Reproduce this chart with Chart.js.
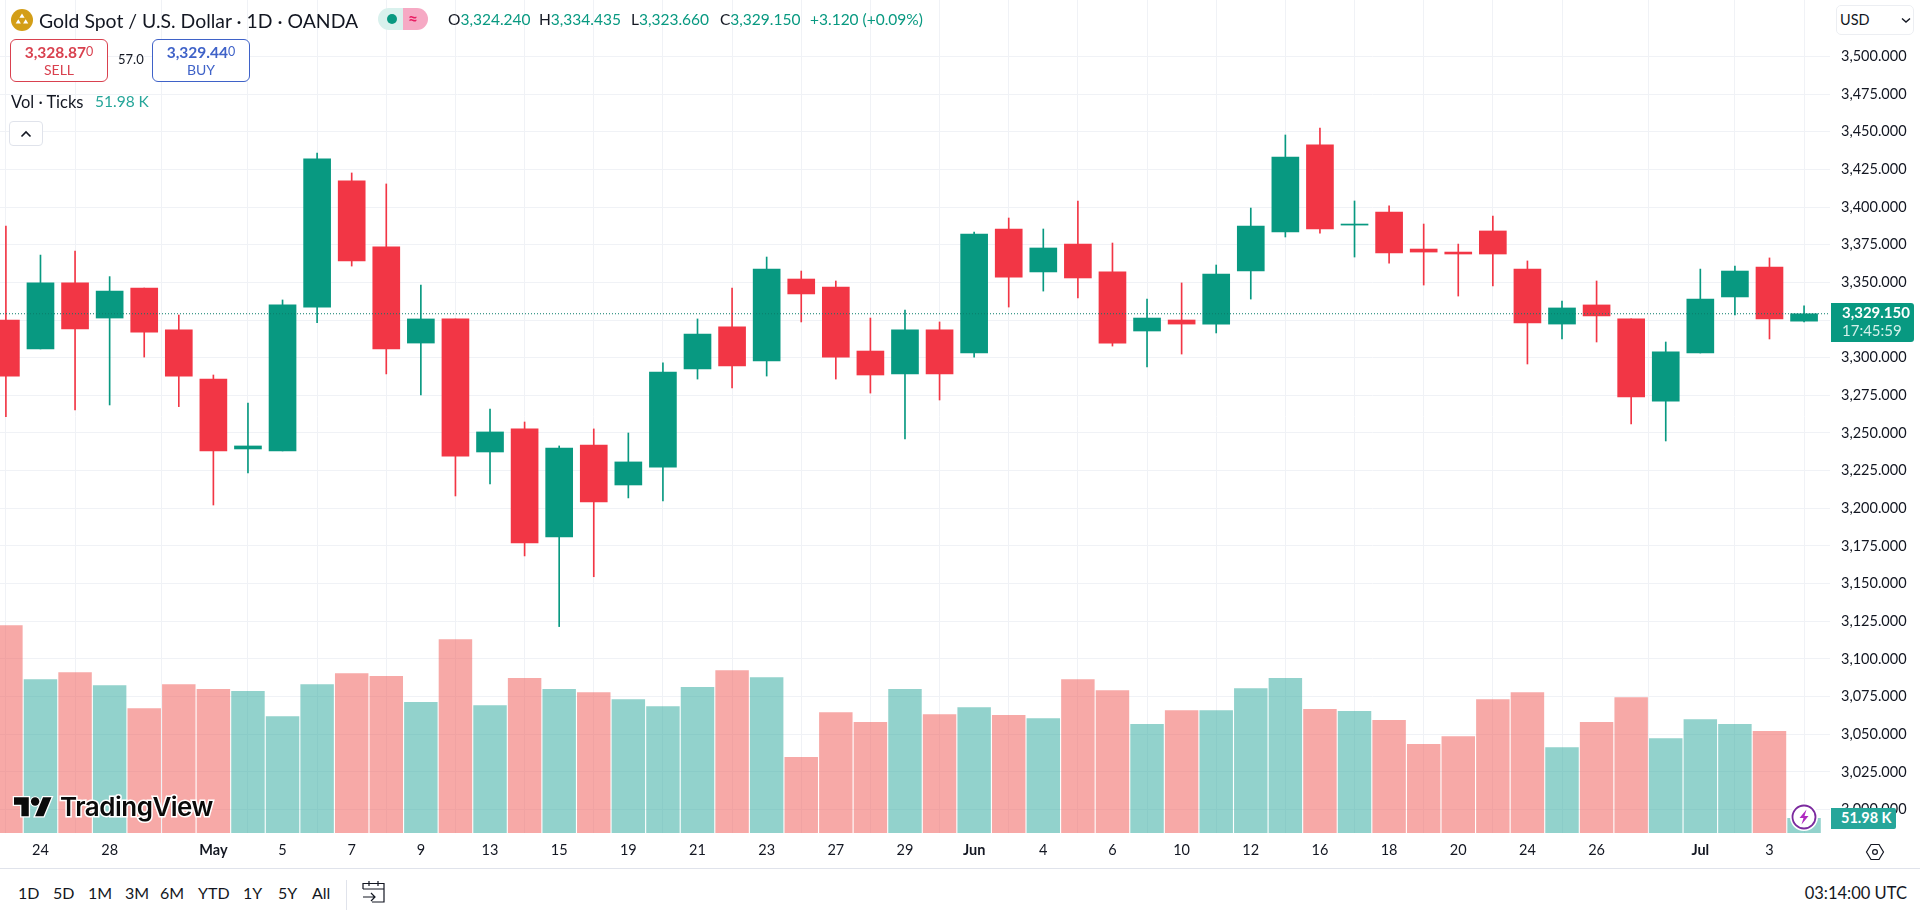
<!DOCTYPE html>
<html>
<head>
<meta charset="utf-8">
<script src="https://cdn.jsdelivr.net/npm/chart.js@4/dist/chart.umd.min.js"></script>
<style>
html,body{margin:0;padding:0;background:#fff;width:1920px;height:912px;overflow:hidden;font-family:"Lato",sans-serif;color:#131722}
#wrap{position:relative;width:1920px;height:912px;overflow:hidden}
canvas{position:absolute;left:0;top:0}
.t{position:absolute;white-space:nowrap;line-height:1}
.box{position:absolute;box-sizing:border-box;background:#fff}
svg{position:absolute;overflow:visible}
.g{color:#089981}
</style>
</head>
<body>
<div id="wrap">
<canvas id="c" width="1920" height="868"></canvas>

<svg style="left:11px;top:9px" width="22" height="22" viewBox="0 0 22 22"><circle cx="11" cy="11" r="11" fill="#d39e17"/><path d="M11 4.5l2.6 4.2H8.4zM7.3 10.2l2.6 4.2H4.7zM14.7 10.2l2.6 4.2h-5.2z" fill="#fff"/></svg>
<div class="t" style="left:39px;top:11px;font-size:19.4px">Gold Spot / U.S. Dollar · 1D · OANDA</div>

<div class="box" style="left:378px;top:8px;width:25px;height:22px;background:#d9f1ed;border-radius:11px 0 0 11px"></div>
<div class="box" style="left:403px;top:8px;width:25px;height:22px;background:#f6a9c4;border-radius:0 11px 11px 0"></div>
<svg style="left:387px;top:14px" width="10" height="10"><circle cx="5" cy="5" r="5" fill="#089981"/></svg>
<div class="t" style="left:408px;top:10px;font-size:17px;font-weight:700;color:#e91e63">≈</div>

<div class="t" style="left:448px;top:12px;font-size:15.5px">O<span class="g">3,324.240</span></div>
<div class="t" style="left:539px;top:12px;font-size:15.5px">H<span class="g">3,334.435</span></div>
<div class="t" style="left:631px;top:12px;font-size:15.5px">L<span class="g">3,323.660</span></div>
<div class="t" style="left:720px;top:12px;font-size:15.5px">C<span class="g">3,329.150</span></div>
<div class="t g" style="left:810px;top:12px;font-size:15.5px">+3.120 (+0.09%)</div>

<div class="box" style="left:10px;top:39px;width:98px;height:43px;border:1px solid #d9414f;border-radius:6px"></div>
<div class="t" style="left:10px;top:45px;width:98px;text-align:center;font-size:15.5px;font-weight:700;color:#d9414f">3,328.87<span style="font-size:12.5px;font-weight:400;vertical-align:2px">0</span></div>
<div class="t" style="left:10px;top:63px;width:98px;text-align:center;font-size:14px;color:#d9414f">SELL</div>
<div class="t" style="left:118px;top:53px;font-size:13px">57.0</div>
<div class="box" style="left:152px;top:39px;width:98px;height:43px;border:1px solid #3f62c8;border-radius:6px"></div>
<div class="t" style="left:152px;top:45px;width:98px;text-align:center;font-size:15.5px;font-weight:700;color:#3f62c8">3,329.44<span style="font-size:12.5px;font-weight:400;vertical-align:2px">0</span></div>
<div class="t" style="left:152px;top:63px;width:98px;text-align:center;font-size:14px;color:#3f62c8">BUY</div>

<div class="t" style="left:11px;top:94px;font-size:16.5px">Vol · Ticks</div>
<div class="t" style="left:95px;top:94px;font-size:15.5px;color:#26a69a">51.98 K</div>

<div class="box" style="left:9px;top:121px;width:34px;height:25px;border:1px solid #e0e3eb;border-radius:4px"></div>
<svg style="left:20px;top:130px" width="12" height="8"><path d="M1.5 6.5L6 2l4.5 4.5" fill="none" stroke="#131722" stroke-width="1.6"/></svg>

<div class="box" style="left:1836px;top:5px;width:78px;height:30px;border:1px solid #eceef2;border-radius:5px"></div>
<div class="t" style="left:1840px;top:13px;font-size:14.5px">USD</div>
<svg style="left:1901px;top:17px" width="10" height="7"><path d="M1 1.5L5 5l4-3.5" fill="none" stroke="#131722" stroke-width="1.4"/></svg>

<div class="box" style="left:1831px;top:303px;width:83px;height:39px;background:#089981;border-radius:0 3px 3px 0"></div>
<div class="t" style="left:1842px;top:305px;font-size:15px;font-weight:700;color:#fff">3,329.150</div>
<div class="t" style="left:1842px;top:323px;font-size:15px;color:#d4f1ea">17:45:59</div>

<div class="box" style="left:1831px;top:808px;width:65px;height:21px;background:#26a69a;border-radius:0 2px 2px 0"></div>
<div class="t" style="left:1841px;top:811px;font-size:14.5px;font-weight:700;color:#fff">51.98 K</div>

<svg style="left:1790px;top:803px" width="28" height="28" viewBox="0 0 28 28"><circle cx="14" cy="14" r="12.5" fill="#fff" stroke="#fff" stroke-width="3"/><circle cx="14" cy="14" r="11.5" fill="#fff" stroke="#7b2a9e" stroke-width="1.8"/><path d="M16.5 6.5L9.5 15h4l-2 6.5 7-8.5h-4z" fill="#b02ac0"/></svg>

<svg style="left:1865px;top:842px" width="20" height="20" viewBox="0 0 20 20"><path d="M6 2.5h8l4.5 7.5-4.5 7.5H6L1.500 10z" fill="none" stroke="#131722" stroke-width="1.2"/><circle cx="10" cy="10" r="2.400" fill="none" stroke="#131722" stroke-width="1.2"/></svg>

<svg style="left:14px;top:797px" width="38" height="20" viewBox="0 0 36 18.500"><g transform="translate(0,-4)"><path d="M14 22H7V11H0V4h14zM28 22h-8l7.500-18h8z" fill="#0a0a0a" stroke="#fff" stroke-width="2.500" paint-order="stroke"/><circle cx="20" cy="8" r="4" fill="#0a0a0a" stroke="#fff" stroke-width="2" paint-order="stroke"/></g></svg>
<div class="t" style="left:60px;top:794px;font-family:Inter,sans-serif;font-size:26px;font-weight:600;letter-spacing:-0.5px;color:#0a0a0a;-webkit-text-stroke:3px #fff;paint-order:stroke fill">TradingView</div>

<div class="box" style="left:0;top:868px;width:1920px;height:44px;border-top:1px solid #e0e3eb"></div>
<div class="t" style="left:18px;top:885px;font-size:16px">1D</div>
<div class="t" style="left:53px;top:885px;font-size:16px">5D</div>
<div class="t" style="left:88px;top:885px;font-size:16px">1M</div>
<div class="t" style="left:125px;top:885px;font-size:16px">3M</div>
<div class="t" style="left:160px;top:885px;font-size:16px">6M</div>
<div class="t" style="left:198px;top:885px;font-size:16px">YTD</div>
<div class="t" style="left:243px;top:885px;font-size:16px">1Y</div>
<div class="t" style="left:278px;top:885px;font-size:16px">5Y</div>
<div class="t" style="left:312px;top:885px;font-size:16px">All</div>
<div class="box" style="left:346px;top:880px;width:1px;height:30px;background:#e0e3eb"></div>
<svg style="left:362px;top:880px" width="24" height="24" viewBox="0 0 24 24"><path d="M1 9V3.500h21V22H10M1 9h21M7 1v5M16 1v5M1 17h12M9 13l4 4-4 4" fill="none" stroke="#131722" stroke-width="1.200"/></svg>
<div class="t" style="right:13px;top:885px;font-size:16.5px">03:14:00 UTC</div>
</div>

<script>
const dates = ["Apr 23","Apr 24","Apr 25","Apr 28","Apr 29","Apr 30","May 1","May 2","May 5","May 6","May 7","May 8","May 9","May 12","May 13","May 14","May 15","May 16","May 19","May 20","May 21","May 22","May 23","May 26","May 27","May 28","May 29","May 30","Jun 2","Jun 3","Jun 4","Jun 5","Jun 6","Jun 9","Jun 10","Jun 11","Jun 12","Jun 13","Jun 16","Jun 17","Jun 18","Jun 19","Jun 20","Jun 23","Jun 24","Jun 25","Jun 26","Jun 27","Jun 30","Jul 1","Jul 2","Jul 3","Jul 4"];
const opens = [3325,3305.8,3349.6,3326.3,3346.2,3318.4,3285.8,3239.4,3238.1,3333.6,3417.3,3373.5,3309.7,3325.7,3237.4,3252.7,3181,3242,3215.5,3227.4,3292.5,3320.4,3297.8,3352.2,3346.9,3304.4,3289.2,3318.4,3303.1,3385.4,3356.9,3375.4,3356.9,3317.7,3325,3322.3,3357.5,3383.4,3441.2,3388,3396.7,3372.1,3370.1,3384.1,3358.8,3322.3,3335,3325.7,3271.2,3303.1,3340.3,3360.2,3324.24];
const highs = [3387.4,3368.1,3370.8,3353.8,3346.2,3328.3,3288.5,3269.9,3338.3,3435.8,3422.6,3415.3,3348.2,3325.7,3265.9,3257.3,3241.4,3252.7,3250,3296.5,3325.7,3346.2,3366.8,3357.5,3350.9,3326.3,3331.6,3323.7,3383.4,3392.7,3385.4,3404,3376.1,3338.9,3349.6,3361.5,3399.3,3447.8,3452.4,3404,3400.7,3388.7,3375.4,3394,3364.2,3337.6,3350.9,3325.7,3310.4,3358.8,3360.8,3366.2,3334.435];
const lows = [3260.8,3305.8,3265.3,3268.6,3300.4,3267.5,3202.2,3223.5,3238.1,3323.2,3360.8,3289.2,3275.2,3208.2,3216.2,3168.4,3121.5,3154.6,3206.9,3204.9,3285.8,3279.9,3287.8,3323.7,3285.8,3276.5,3246,3271.9,3300.4,3333.6,3344.2,3339.6,3307.7,3293.8,3302.4,3316.4,3338.9,3380.1,3382.7,3366.8,3362.8,3348.2,3340.9,3347.6,3295.8,3312.4,3310.4,3256,3244.7,3303.1,3328.3,3312.4,3323.66];
const closes = [3287.8,3349.6,3319,3344.2,3317,3287.8,3238.1,3241.4,3335,3431.9,3364.2,3305.8,3325.7,3234.7,3250.7,3177,3240,3204.2,3230.8,3290.5,3315.7,3294.5,3358.8,3342.3,3300.4,3288.5,3318.4,3289.2,3382.1,3353.5,3372.8,3352.9,3309.7,3326.3,3322.3,3355.5,3387.4,3433.2,3385.4,3388.7,3369.5,3370.1,3368.8,3368.8,3323,3333,3327.7,3273.9,3303.8,3338.9,3357.5,3325.7,3329.15];
const volumes = [735,544,569,523,441,526,509,502,413,526,565,555,463,686,452,548,509,498,473,448,516,576,551,268,427,392,509,420,445,417,406,544,505,385,434,434,512,548,438,431,399,314,342,473,498,303,392,480,335,402,385,360,51.98];
const xTickDates = ["Apr 24","Apr 28","May 1","May 5","May 7","May 9","May 13","May 15","May 19","May 21","May 23","May 27","May 29","Jun 2","Jun 4","Jun 6","Jun 10","Jun 12","Jun 16","Jun 18","Jun 20","Jun 24","Jun 26","Jul 1","Jul 3"];
const xTickLabels = ["24","28","May","5","7","9","13","15","19","21","23","27","29","Jun","4","6","10","12","16","18","20","24","26","Jul","3"];
const yTickValues = [3000,3025,3050,3075,3100,3125,3150,3175,3200,3225,3250,3275,3300,3325,3350,3375,3400,3425,3450,3475,3500];
const lastPrice = 3329.150;

const UP = "#089981", DOWN = "#f23645";
const UPV = "rgba(38,166,154,.5)", DOWNV = "rgba(239,83,80,.5)";
const isUp = i => closes[i] >= opens[i];
const xMin = -0.1706, xMax = 52.75;

new Chart(document.getElementById("c"), {
  type: "bar",
  data: { datasets: [
    { type:"line", label:"Last price", order:0, yAxisID:"y", xAxisID:"x",
      data:[{x:xMin,y:lastPrice},{x:xMax,y:lastPrice}],
      borderColor:"#0a7d6b", borderWidth:1, borderDash:[1,2], pointRadius:0, fill:false },
    { label:"Body", order:1, yAxisID:"y", xAxisID:"x", grouped:false, barThickness:27,
      data:dates.map((d,i)=>({x:i,y:[Math.min(opens[i],closes[i]),Math.max(opens[i],closes[i])]})),
      backgroundColor:dates.map((d,i)=>isUp(i)?UP:DOWN) },
    { label:"Wick", order:2, yAxisID:"y", xAxisID:"x", grouped:false, barThickness:1,
      data:dates.map((d,i)=>({x:i,y:[lows[i],highs[i]]})),
      backgroundColor:dates.map((d,i)=>isUp(i)?UP:DOWN) },
    { label:"Vol", order:3, yAxisID:"v", xAxisID:"x", grouped:false, barThickness:32.8,
      data:dates.map((d,i)=>({x:i,y:volumes[i]})),
      backgroundColor:dates.map((d,i)=>isUp(i)?UPV:DOWNV) }
  ]},
  options: {
    responsive:false, animation:false, devicePixelRatio:1,
    layout:{padding:0},
    plugins:{legend:{display:false},tooltip:{enabled:false}},
    scales:{
      x:{ type:"linear", min:xMin, max:xMax, offset:false,
        grid:{color:"#f0f2f6",lineWidth:1,drawTicks:false}, border:{display:false},
        afterBuildTicks:s=>{ s.ticks = xTickDates.map(d=>({value:dates.indexOf(d)})); },
        afterFit:s=>{ s.height = 35; s.paddingLeft = 0; s.paddingRight = 0; },
        ticks:{ autoSkip:false, maxRotation:0, padding:9, color:"#131722",
          callback:(v)=>xTickLabels[xTickDates.indexOf(dates[v])],
          font:(ctx)=>{ const l=xTickLabels[ctx.index]; return {family:"Lato",size:14.500,weight:/[A-Za-z]/.test(l||"")?"700":"400"}; } } },
      y:{ type:"linear", position:"right", min:2984.5, max:3537.4, bounds:"data",
        grid:{color:"#f0f2f6",lineWidth:1,drawTicks:false}, border:{display:false},
        afterBuildTicks:s=>{ s.ticks = yTickValues.map(v=>({value:v})); },
        afterFit:s=>{ s.width = 90; s.paddingTop = 0; s.paddingBottom = 0; },
        ticks:{ padding:11, color:"#131722", font:{family:"Lato",size:14.500},
          callback:v=>v.toLocaleString("en-US",{minimumFractionDigits:3,maximumFractionDigits:3}) } },
      v:{ type:"linear", display:false, min:0, max:2953, position:"left" }
    }
  }
});
</script>
</body>
</html>
